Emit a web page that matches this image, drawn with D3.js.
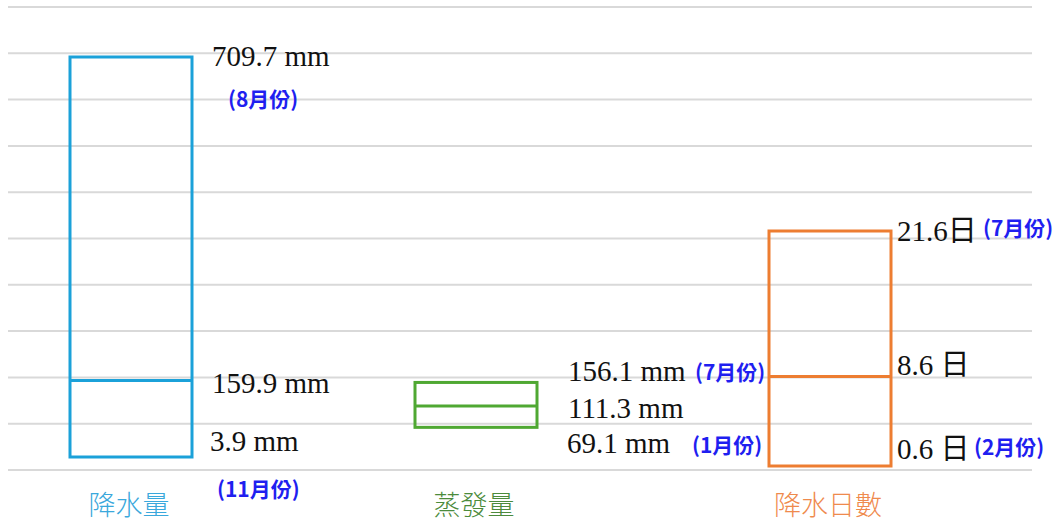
<!DOCTYPE html>
<html>
<head>
<meta charset="utf-8">
<script src="https://cdn.jsdelivr.net/npm/d3@7"></script>
<style>
  html, body { margin: 0; padding: 0; background: #ffffff; }
  svg { display: block; }
</style>
</head>
<body>
<svg id="chart" width="1057" height="523"></svg>
<script>
// Monthly climate summary: highest, mean and lowest month for each measure
const categories = ["降水量", "蒸發量", "降水日數"];
const maxValues  = [709.7, 156.1, 21.6];
const meanValues = [159.9, 111.3, 8.6];
const minValues  = [3.9, 69.1, 0.6];
const units      = ["mm", "mm", "日"];
const maxMonths  = ["8月份", "7月份", "7月份"];
const minMonths  = ["11月份", "1月份", "2月份"];
const gridCount  = 11;

const strokeColors = ["#1ba1d9", "#4fa832", "#ed7d31"];
const labelColors  = ["#3aa8dc", "#4c8b3c", "#ef8a4d"];
const monthColor   = "#1f1ff0";

const svg = d3.select("#chart");

// Horizontal gridlines
const grid = d3.scaleLinear().domain([0, gridCount - 1]).range([470, 7]);
svg.append("g").selectAll("line")
  .data(d3.range(gridCount))
  .join("line")
  .attr("x1", 8).attr("x2", 1032)
  .attr("y1", d => grid(d)).attr("y2", d => grid(d))
  .attr("stroke", "#d9d9d9").attr("stroke-width", 2);

// Category centres
const x = d3.scaleOrdinal().domain(categories).range([131, 476, 830]);
const boxW = 122;

// Rainfall and evaporation share a millimetre scale; rain days get their own
const mmVals = [...maxValues.slice(0, 2), ...minValues.slice(0, 2)];
const yMM = d3.scalePow().exponent(1.1)
  .domain([d3.min(mmVals), d3.max(mmVals)])
  .range([457, 57]);
const yDays = d3.scaleLinear()
  .domain([minValues[2], maxValues[2]])
  .range([466, 231]);
const yFor = i => (units[i] === "mm" ? yMM : yDays);

const rows = categories.map((c, i) => ({
  cat: c, i,
  max: maxValues[i], mean: meanValues[i], min: minValues[i],
  unit: units[i], maxMonth: maxMonths[i], minMonth: minMonths[i]
}));

// Boxes: outline spans min to max, inner line at the mean
const boxes = svg.append("g").selectAll("g")
  .data(rows).join("g");

boxes.append("rect")
  .attr("x", d => x(d.cat) - boxW / 2)
  .attr("y", d => yFor(d.i)(d.max))
  .attr("width", boxW)
  .attr("height", d => yFor(d.i)(d.min) - yFor(d.i)(d.max))
  .attr("fill", "none")
  .attr("stroke", d => strokeColors[d.i])
  .attr("stroke-width", 3);

boxes.append("line")
  .attr("x1", d => x(d.cat) - boxW / 2)
  .attr("x2", d => x(d.cat) + boxW / 2)
  .attr("y1", d => yFor(d.i)(d.mean))
  .attr("y2", d => yFor(d.i)(d.mean))
  .attr("stroke", d => strokeColors[d.i])
  .attr("stroke-width", 3);

// Category names under each box
svg.append("g").selectAll("text")
  .data(rows).join("text")
  .attr("x", d => x(d.cat) - 2)
  .attr("y", 515)
  .attr("text-anchor", "middle")
  .attr("font-family", "'Noto Sans CJK TC', 'Noto Sans CJK SC', sans-serif")
  .attr("font-size", 27)
  .attr("font-weight", 300)
  .attr("fill", d => labelColors[d.i])
  .text(d => d.cat);

// Value label placement per panel: [dx, dy] from the box's right edge and mark
const valueLayout = [
  { max: [20, 9],  mean: [20, 13], min: [18, -6], sepMax: " ", sep: " " },
  { max: [31, -1], mean: [31, 12], min: [30, 26], sepMax: " ", sep: " " },
  { max: [6, 10],  mean: [6, -1],  min: [6, -7],  sepMax: "",  sep: " " }
];
const monthLayout = [
  { max: [36, 50],   min: [25, 40] },
  { max: [158, -2],  min: [155, 26] },
  { max: [92, 5],    min: [83, -11] }
];

const valueFont = "'Liberation Serif', 'Times New Roman', 'Noto Sans CJK TC', serif";
const monthFont = "'Noto Sans CJK TC', 'Noto Sans CJK SC', sans-serif";

const labels = svg.append("g");
rows.forEach(d => {
  const right = x(d.cat) + boxW / 2;
  const y = yFor(d.i);
  const L = valueLayout[d.i];
  [["max", d.max, L.sepMax], ["mean", d.mean, L.sep], ["min", d.min, L.sep]].forEach(([k, v, sep]) => {
    labels.append("text")
      .attr("x", right + L[k][0])
      .attr("y", y(v) + L[k][1])
      .attr("font-family", valueFont)
      .attr("font-size", 29)
      .attr("fill", "#111")
      .text(`${v}${sep}${d.unit}`);
  });
  const M = monthLayout[d.i];
  [["max", d.max, d.maxMonth], ["min", d.min, d.minMonth]].forEach(([k, v, m]) => {
    labels.append("text")
      .attr("x", right + M[k][0])
      .attr("y", y(v) + M[k][1])
      .attr("font-family", monthFont)
      .attr("font-size", 21)
      .attr("font-weight", 700)
      .attr("fill", monthColor)
      .text(`(${m})`);
  });
});
</script>
</body>
</html>
